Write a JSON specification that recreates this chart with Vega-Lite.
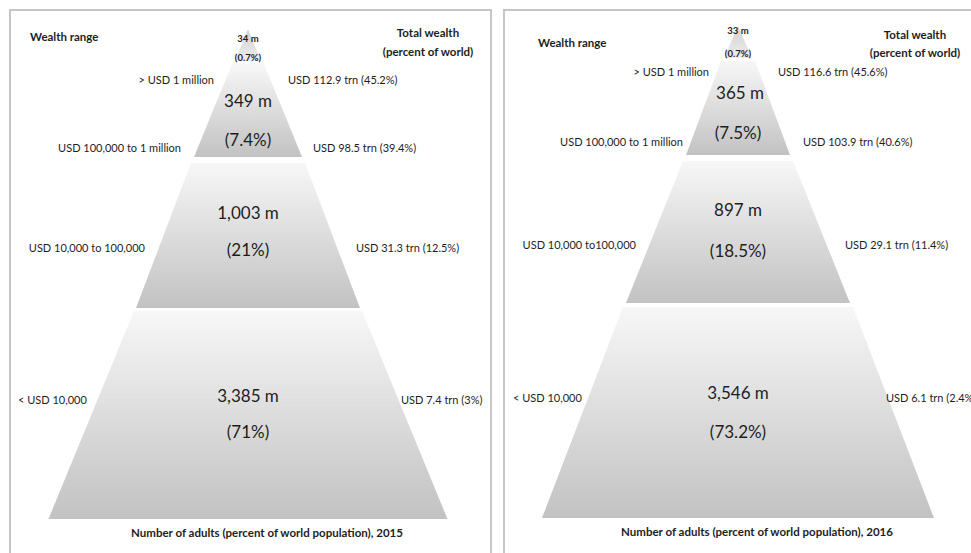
{
  "$schema": "https://vega.github.io/schema/vega-lite/v6.json",
  "background": "white",
  "padding": {"left": 9, "top": 9, "right": 0, "bottom": 0},
  "bounds": "flush",
  "spacing": 13,
  "config": {
    "view": {"stroke": "#c6c6c6", "strokeWidth": 2},
    "font": "Lato, Roboto, sans-serif",
    "text": {"color": "#1e1e1e", "baseline": "middle"}
  },
  "datasets": {
    "tiers": [
      {"year": 2015, "tier": 1, "depth": 19, "half": 0},
      {"year": 2015, "tier": 1, "depth": 51, "half": 13},
      {"year": 2015, "tier": 2, "depth": 54, "half": 16},
      {"year": 2015, "tier": 2, "depth": 147, "half": 54},
      {"year": 2015, "tier": 3, "depth": 153, "half": 57},
      {"year": 2015, "tier": 3, "depth": 298, "half": 112},
      {"year": 2015, "tier": 4, "depth": 301, "half": 114},
      {"year": 2015, "tier": 4, "depth": 509, "half": 199.5},
      {"year": 2016, "tier": 1, "depth": 16, "half": 0},
      {"year": 2016, "tier": 1, "depth": 48, "half": 14},
      {"year": 2016, "tier": 2, "depth": 51, "half": 17},
      {"year": 2016, "tier": 2, "depth": 145, "half": 52},
      {"year": 2016, "tier": 3, "depth": 151, "half": 55},
      {"year": 2016, "tier": 3, "depth": 293, "half": 112},
      {"year": 2016, "tier": 4, "depth": 297, "half": 115},
      {"year": 2016, "tier": 4, "depth": 508, "half": 196}
    ],
    "labels": [
      {"year": 2015, "kind": "bold-start", "text": "Wealth range", "x": -218, "y": 28},
      {"year": 2015, "kind": "bold-middle", "text": "Total wealth", "x": 180, "y": 24},
      {"year": 2015, "kind": "bold-middle", "text": "(percent of world)", "x": 180, "y": 43},
      {"year": 2015, "kind": "small-bold", "text": "34 m", "x": 0, "y": 29},
      {"year": 2015, "kind": "small-bold", "text": "(0.7%)", "x": 0, "y": 48},
      {"year": 2015, "kind": "end", "text": "> USD 1 million", "x": -34, "y": 71},
      {"year": 2015, "kind": "start", "text": "USD 112.9 trn (45.2%)", "x": 40, "y": 71},
      {"year": 2015, "kind": "big", "text": "349 m", "x": 0, "y": 92},
      {"year": 2015, "kind": "big", "text": "(7.4%)", "x": 0, "y": 131},
      {"year": 2015, "kind": "end", "text": "USD 100,000 to 1 million", "x": -67, "y": 139},
      {"year": 2015, "kind": "start", "text": "USD 98.5 trn (39.4%)", "x": 65, "y": 139},
      {"year": 2015, "kind": "big", "text": "1,003 m", "x": 0, "y": 204},
      {"year": 2015, "kind": "big", "text": "(21%)", "x": 0, "y": 241},
      {"year": 2015, "kind": "end", "text": "USD 10,000 to 100,000", "x": -103, "y": 239},
      {"year": 2015, "kind": "start", "text": "USD 31.3 trn (12.5%)", "x": 108, "y": 239},
      {"year": 2015, "kind": "big", "text": "3,385 m", "x": 0, "y": 387},
      {"year": 2015, "kind": "big", "text": "(71%)", "x": 0, "y": 423},
      {"year": 2015, "kind": "start", "text": "< USD 10,000", "x": -230, "y": 391},
      {"year": 2015, "kind": "start", "text": "USD 7.4 trn (3%)", "x": 153, "y": 391},
      {"year": 2015, "kind": "bold-middle", "text": "Number of adults (percent of world population), 2015", "x": 19, "y": 524},
      {"year": 2016, "kind": "bold-start", "text": "Wealth range", "x": -200, "y": 34},
      {"year": 2016, "kind": "bold-middle", "text": "Total wealth", "x": 177, "y": 26},
      {"year": 2016, "kind": "bold-middle", "text": "(percent of world)", "x": 177, "y": 44},
      {"year": 2016, "kind": "small-bold", "text": "33 m", "x": 0, "y": 21},
      {"year": 2016, "kind": "small-bold", "text": "(0.7%)", "x": 0, "y": 44},
      {"year": 2016, "kind": "end", "text": "> USD 1 million", "x": -29, "y": 63},
      {"year": 2016, "kind": "start", "text": "USD 116.6 trn (45.6%)", "x": 40, "y": 63},
      {"year": 2016, "kind": "big", "text": "365 m", "x": 2, "y": 84},
      {"year": 2016, "kind": "big", "text": "(7.5%)", "x": 0, "y": 124},
      {"year": 2016, "kind": "end", "text": "USD 100,000 to 1 million", "x": -55, "y": 133},
      {"year": 2016, "kind": "start", "text": "USD 103.9 trn (40.6%)", "x": 65, "y": 133},
      {"year": 2016, "kind": "big", "text": "897 m", "x": 0, "y": 201},
      {"year": 2016, "kind": "big", "text": "(18.5%)", "x": 0, "y": 242},
      {"year": 2016, "kind": "end", "text": "USD 10,000 to100,000", "x": -102, "y": 236},
      {"year": 2016, "kind": "start", "text": "USD 29.1 trn (11.4%)", "x": 107, "y": 236},
      {"year": 2016, "kind": "big", "text": "3,546 m", "x": 0, "y": 384},
      {"year": 2016, "kind": "big", "text": "(73.2%)", "x": 0, "y": 423},
      {"year": 2016, "kind": "start", "text": "< USD 10,000", "x": -225, "y": 389},
      {"year": 2016, "kind": "start", "text": "USD 6.1 trn (2.4%)", "x": 148, "y": 389},
      {"year": 2016, "kind": "bold-middle", "text": "Number of adults (percent of world population), 2016", "x": 19, "y": 523}
    ]
  },
  "hconcat": [
    {
      "width": 481,
      "height": 546,
      "layer": [
        {
          "data": {"name": "tiers"},
          "transform": [{"filter": "datum.year === 2015 && datum.tier === 1"}, {"calculate": "-datum.half", "as": "left"}],
          "mark": {"type": "area", "orient": "horizontal", "color": {"gradient": "linear", "x1": 0, "y1": 0, "x2": 0, "y2": 1, "stops": [{"offset": 0, "color": "#d2d2d2"}, {"offset": 1, "color": "#ededed"}]}},
          "encoding": {
            "y": {"field": "depth", "type": "quantitative", "scale": {"domain": [0, 546], "reverse": true, "nice": false, "zero": false}, "axis": null},
            "x": {"field": "left", "type": "quantitative", "scale": {"domain": [-238, 243], "nice": false, "zero": false}, "axis": null},
            "x2": {"field": "half"}
          }
        },
        {
          "data": {"name": "tiers"},
          "transform": [{"filter": "datum.year === 2015 && datum.tier > 1"}, {"calculate": "-datum.half", "as": "left"}],
          "mark": {"type": "area", "orient": "horizontal", "color": {"gradient": "linear", "x1": 0, "y1": 0, "x2": 0, "y2": 1, "stops": [{"offset": 0, "color": "#f7f7f7"}, {"offset": 1, "color": "#c2c2c2"}]}},
          "encoding": {
            "y": {"field": "depth", "type": "quantitative", "scale": {"domain": [0, 546], "reverse": true, "nice": false, "zero": false}, "axis": null},
            "x": {"field": "left", "type": "quantitative", "scale": {"domain": [-238, 243], "nice": false, "zero": false}, "axis": null},
            "x2": {"field": "half"},
            "detail": {"field": "tier", "type": "nominal"}
          }
        },
        {
          "data": {"name": "labels"},
          "transform": [{"filter": "datum.year === 2015 && datum.kind === 'bold-start'"}],
          "mark": {"type": "text", "align": "left", "fontSize": 11.5, "fontWeight": "bold"},
          "encoding": {
            "x": {"field": "x", "type": "quantitative", "scale": {"domain": [-238, 243], "nice": false, "zero": false}, "axis": null},
            "y": {"field": "y", "type": "quantitative", "scale": {"domain": [0, 546], "reverse": true, "nice": false, "zero": false}, "axis": null},
            "text": {"field": "text"}
          }
        },
        {
          "data": {"name": "labels"},
          "transform": [{"filter": "datum.year === 2015 && datum.kind === 'bold-middle'"}],
          "mark": {"type": "text", "align": "center", "fontSize": 11.5, "fontWeight": "bold"},
          "encoding": {
            "x": {"field": "x", "type": "quantitative", "scale": {"domain": [-238, 243], "nice": false, "zero": false}, "axis": null},
            "y": {"field": "y", "type": "quantitative", "scale": {"domain": [0, 546], "reverse": true, "nice": false, "zero": false}, "axis": null},
            "text": {"field": "text"}
          }
        },
        {
          "data": {"name": "labels"},
          "transform": [{"filter": "datum.year === 2015 && datum.kind === 'small-bold'"}],
          "mark": {"type": "text", "align": "center", "fontSize": 9.5, "fontWeight": "bold"},
          "encoding": {
            "x": {"field": "x", "type": "quantitative", "scale": {"domain": [-238, 243], "nice": false, "zero": false}, "axis": null},
            "y": {"field": "y", "type": "quantitative", "scale": {"domain": [0, 546], "reverse": true, "nice": false, "zero": false}, "axis": null},
            "text": {"field": "text"}
          }
        },
        {
          "data": {"name": "labels"},
          "transform": [{"filter": "datum.year === 2015 && datum.kind === 'end'"}],
          "mark": {"type": "text", "align": "right", "fontSize": 11},
          "encoding": {
            "x": {"field": "x", "type": "quantitative", "scale": {"domain": [-238, 243], "nice": false, "zero": false}, "axis": null},
            "y": {"field": "y", "type": "quantitative", "scale": {"domain": [0, 546], "reverse": true, "nice": false, "zero": false}, "axis": null},
            "text": {"field": "text"}
          }
        },
        {
          "data": {"name": "labels"},
          "transform": [{"filter": "datum.year === 2015 && datum.kind === 'start'"}],
          "mark": {"type": "text", "align": "left", "fontSize": 11},
          "encoding": {
            "x": {"field": "x", "type": "quantitative", "scale": {"domain": [-238, 243], "nice": false, "zero": false}, "axis": null},
            "y": {"field": "y", "type": "quantitative", "scale": {"domain": [0, 546], "reverse": true, "nice": false, "zero": false}, "axis": null},
            "text": {"field": "text"}
          }
        },
        {
          "data": {"name": "labels"},
          "transform": [{"filter": "datum.year === 2015 && datum.kind === 'big'"}],
          "mark": {"type": "text", "align": "center", "fontSize": 17},
          "encoding": {
            "x": {"field": "x", "type": "quantitative", "scale": {"domain": [-238, 243], "nice": false, "zero": false}, "axis": null},
            "y": {"field": "y", "type": "quantitative", "scale": {"domain": [0, 546], "reverse": true, "nice": false, "zero": false}, "axis": null},
            "text": {"field": "text"}
          }
        }
      ]
    },
    {
      "width": 481,
      "height": 546,
      "layer": [
        {
          "data": {"name": "tiers"},
          "transform": [{"filter": "datum.year === 2016 && datum.tier === 1"}, {"calculate": "-datum.half", "as": "left"}],
          "mark": {"type": "area", "orient": "horizontal", "color": {"gradient": "linear", "x1": 0, "y1": 0, "x2": 0, "y2": 1, "stops": [{"offset": 0, "color": "#d2d2d2"}, {"offset": 1, "color": "#ededed"}]}},
          "encoding": {
            "y": {"field": "depth", "type": "quantitative", "scale": {"domain": [0, 546], "reverse": true, "nice": false, "zero": false}, "axis": null},
            "x": {"field": "left", "type": "quantitative", "scale": {"domain": [-234, 247], "nice": false, "zero": false}, "axis": null},
            "x2": {"field": "half"}
          }
        },
        {
          "data": {"name": "tiers"},
          "transform": [{"filter": "datum.year === 2016 && datum.tier > 1"}, {"calculate": "-datum.half", "as": "left"}],
          "mark": {"type": "area", "orient": "horizontal", "color": {"gradient": "linear", "x1": 0, "y1": 0, "x2": 0, "y2": 1, "stops": [{"offset": 0, "color": "#f7f7f7"}, {"offset": 1, "color": "#c2c2c2"}]}},
          "encoding": {
            "y": {"field": "depth", "type": "quantitative", "scale": {"domain": [0, 546], "reverse": true, "nice": false, "zero": false}, "axis": null},
            "x": {"field": "left", "type": "quantitative", "scale": {"domain": [-234, 247], "nice": false, "zero": false}, "axis": null},
            "x2": {"field": "half"},
            "detail": {"field": "tier", "type": "nominal"}
          }
        },
        {
          "data": {"name": "labels"},
          "transform": [{"filter": "datum.year === 2016 && datum.kind === 'bold-start'"}],
          "mark": {"type": "text", "align": "left", "fontSize": 11.5, "fontWeight": "bold"},
          "encoding": {
            "x": {"field": "x", "type": "quantitative", "scale": {"domain": [-234, 247], "nice": false, "zero": false}, "axis": null},
            "y": {"field": "y", "type": "quantitative", "scale": {"domain": [0, 546], "reverse": true, "nice": false, "zero": false}, "axis": null},
            "text": {"field": "text"}
          }
        },
        {
          "data": {"name": "labels"},
          "transform": [{"filter": "datum.year === 2016 && datum.kind === 'bold-middle'"}],
          "mark": {"type": "text", "align": "center", "fontSize": 11.5, "fontWeight": "bold"},
          "encoding": {
            "x": {"field": "x", "type": "quantitative", "scale": {"domain": [-234, 247], "nice": false, "zero": false}, "axis": null},
            "y": {"field": "y", "type": "quantitative", "scale": {"domain": [0, 546], "reverse": true, "nice": false, "zero": false}, "axis": null},
            "text": {"field": "text"}
          }
        },
        {
          "data": {"name": "labels"},
          "transform": [{"filter": "datum.year === 2016 && datum.kind === 'small-bold'"}],
          "mark": {"type": "text", "align": "center", "fontSize": 9.5, "fontWeight": "bold"},
          "encoding": {
            "x": {"field": "x", "type": "quantitative", "scale": {"domain": [-234, 247], "nice": false, "zero": false}, "axis": null},
            "y": {"field": "y", "type": "quantitative", "scale": {"domain": [0, 546], "reverse": true, "nice": false, "zero": false}, "axis": null},
            "text": {"field": "text"}
          }
        },
        {
          "data": {"name": "labels"},
          "transform": [{"filter": "datum.year === 2016 && datum.kind === 'end'"}],
          "mark": {"type": "text", "align": "right", "fontSize": 11},
          "encoding": {
            "x": {"field": "x", "type": "quantitative", "scale": {"domain": [-234, 247], "nice": false, "zero": false}, "axis": null},
            "y": {"field": "y", "type": "quantitative", "scale": {"domain": [0, 546], "reverse": true, "nice": false, "zero": false}, "axis": null},
            "text": {"field": "text"}
          }
        },
        {
          "data": {"name": "labels"},
          "transform": [{"filter": "datum.year === 2016 && datum.kind === 'start'"}],
          "mark": {"type": "text", "align": "left", "fontSize": 11},
          "encoding": {
            "x": {"field": "x", "type": "quantitative", "scale": {"domain": [-234, 247], "nice": false, "zero": false}, "axis": null},
            "y": {"field": "y", "type": "quantitative", "scale": {"domain": [0, 546], "reverse": true, "nice": false, "zero": false}, "axis": null},
            "text": {"field": "text"}
          }
        },
        {
          "data": {"name": "labels"},
          "transform": [{"filter": "datum.year === 2016 && datum.kind === 'big'"}],
          "mark": {"type": "text", "align": "center", "fontSize": 17},
          "encoding": {
            "x": {"field": "x", "type": "quantitative", "scale": {"domain": [-234, 247], "nice": false, "zero": false}, "axis": null},
            "y": {"field": "y", "type": "quantitative", "scale": {"domain": [0, 546], "reverse": true, "nice": false, "zero": false}, "axis": null},
            "text": {"field": "text"}
          }
        }
      ]
    }
  ]
}
